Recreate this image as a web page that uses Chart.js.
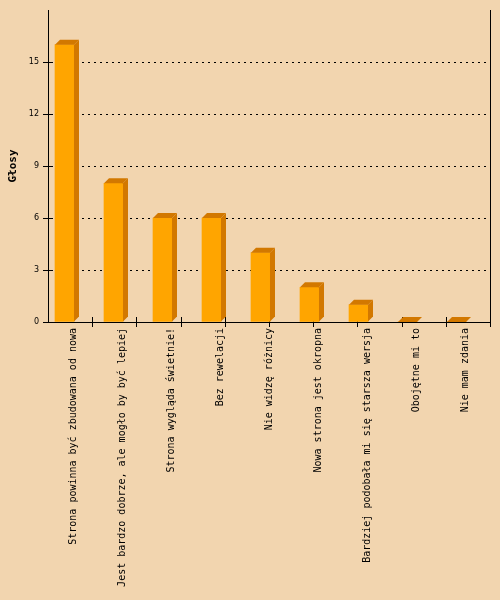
<!DOCTYPE html>
<html>
<head>
<meta charset="utf-8">
<script src="https://cdn.jsdelivr.net/npm/chart.js@4.4.1/dist/chart.umd.min.js"></script>
<style>
html, body { margin: 0; padding: 0; background: #f2d5af; }
canvas { display: block; }
</style>
</head>
<body>
<canvas id="chart" width="500" height="600"></canvas>
<script>
const categories = [
    'Strona powinna być zbudowana od nowa',
    'Jest bardzo dobrze, ale mogło by być lepiej',
    'Strona wygląda świetnie!',
    'Bez rewelacji',
    'Nie widzę różnicy',
    'Nowa strona jest okropna',
    'Bardziej podobała mi się starsza wersja',
    'Obojętne mi to',
    'Nie mam zdania'
];
const votes = [16, 8, 6, 6, 4, 2, 1, 0, 0];
const yTicks = [0, 3, 6, 9, 12, 15];
const yMax = 18;
const slotCount = 10;   // jpgraph-style tick marks on the x axis

const bg = '#f2d5af';
const front = '#ffa500';
const shade = '#d27800';
const depth = 5;

// background
const bgPlugin = {
    id: 'bg',
    beforeDraw(chart) {
        const c = chart.ctx;
        c.save();
        c.fillStyle = bg;
        c.fillRect(0, 0, chart.width, chart.height);
        c.restore();
    }
};

// dotted grid lines + tick marks crossing both axes, all behind the bars
const gridPlugin = {
    id: 'dotGrid',
    beforeDatasetsDraw(chart) {
        const c = chart.ctx, a = chart.chartArea, y = chart.scales.y, xt = chart.scales.xt;
        c.save();
        c.strokeStyle = '#000';
        c.lineWidth = 1;
        // y tick marks
        yTicks.forEach(v => {
            const py = Math.round(y.getPixelForValue(v)) + 0.5;
            c.beginPath();
            c.moveTo(a.left - 5, py);
            c.lineTo(a.left + 5, py);
            c.stroke();
        });
        // x tick marks
        for (let i = 1; i <= slotCount; i++) {
            const px = Math.round(xt.getPixelForValue(i)) + 0.5;
            c.beginPath();
            c.moveTo(px, a.bottom - 5);
            c.lineTo(px, a.bottom + 5);
            c.stroke();
        }
        c.setLineDash([2, 4]);
        yTicks.forEach(v => {
            if (v === 0) return;
            const py = Math.round(y.getPixelForValue(v)) + 0.5;
            c.beginPath();
            c.moveTo(a.left + 34, py);
            c.lineTo(a.right - 2, py);
            c.stroke();
        });
        c.restore();
    }
};

// side + top faces of the bars
const box3d = {
    id: 'box3d',
    afterDatasetsDraw(chart) {
        const c = chart.ctx;
        const meta = chart.getDatasetMeta(0);
        c.save();
        c.fillStyle = shade;
        meta.data.forEach(bar => {
            const l = bar.x - bar.width / 2, r = bar.x + bar.width / 2;
            const top = bar.y, base = bar.base;
            c.beginPath();
            c.moveTo(r, top);
            c.lineTo(r + depth, top - depth);
            c.lineTo(r + depth, base - depth);
            c.lineTo(r, base);
            c.closePath();
            c.fill();
            c.beginPath();
            c.moveTo(l, top);
            c.lineTo(l + depth, top - depth);
            c.lineTo(r + depth, top - depth);
            c.lineTo(r, top);
            c.closePath();
            c.fill();
        });
        c.restore();
    }
};

new Chart(document.getElementById('chart'), {
    type: 'bar',
    data: {
        datasets: [{
            data: votes.map((v, i) => ({ x: i, y: v })),
            backgroundColor: front,
            borderWidth: 0,
            barThickness: 19
        }]
    },
    options: {
        responsive: false,
        animation: false,
        layout: { padding: { top: 10, left: 0, right: 0, bottom: 0 } },
        plugins: { legend: { display: false }, tooltip: { enabled: false } },
        scales: {
            x: {
                type: 'linear',
                position: 'bottom',
                offset: false,
                min: -0.3367,
                max: 8.6837,
                grid: { display: false, drawTicks: false, tickLength: 0, offset: false },
                border: { display: true, color: '#000', width: 1 },
                ticks: {
                    stepSize: 1,
                    includeBounds: false,
                    autoSkip: false,
                    maxRotation: 90,
                    minRotation: 90,
                    padding: 6,
                    labelOffset: 8.5,
                    color: '#000',
                    font: { family: 'DejaVu Sans Mono', size: 10 },
                    callback: v => categories[v] ?? ''
                },
                afterFit: s => { s.height = 278; s.paddingLeft = 0; s.paddingRight = 0; }
            },
            xt: {
                type: 'linear',
                display: false,
                offset: false,
                grid: { offset: false },
                min: 0,
                max: slotCount
            },
            y: {
                min: 0,
                max: yMax,
                grid: {
                    drawOnChartArea: false,
                    tickLength: 5,
                    tickColor: 'transparent'
                },
                border: { display: true, color: '#000', width: 1 },
                ticks: {
                    stepSize: 3,
                    padding: 4,
                    color: '#000',
                    font: { family: 'DejaVu Sans', size: 8 },
                    callback: v => v === yMax ? '' : v
                },
                title: {
                    display: true,
                    text: 'Głosy',
                    color: '#000',
                    padding: { top: 7, bottom: 0 },
                    font: { family: 'DejaVu Sans Mono', size: 11, weight: 'bold' }
                },
                afterFit: s => { s.width = 48; s.paddingTop = 0; s.paddingBottom = 0; }
            },
            y2: {
                position: 'right',
                min: 0,
                max: yMax,
                grid: { display: false, drawTicks: false },
                border: { display: true, color: '#000', width: 1 },
                ticks: { display: false },
                afterFit: s => { s.width = 10; s.paddingTop = 0; s.paddingBottom = 0; }
            }
        }
    },
    plugins: [bgPlugin, gridPlugin, box3d]
});
</script>
</body>
</html>
